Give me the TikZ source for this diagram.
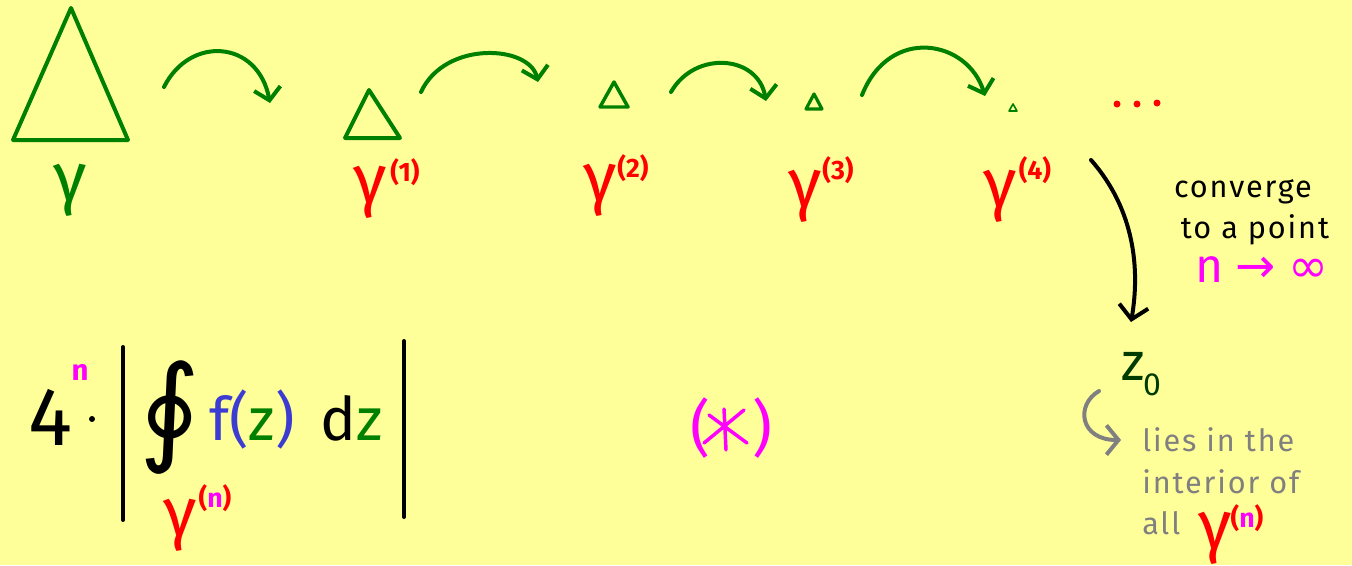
\documentclass[tikz,border=0pt]{standalone}
\usepackage{fontspec}
\setmainfont{Fira Sans}
\newfontfamily\sym{DejaVu Sans}
\newfontfamily\wide[LetterSpace=6]{Fira Sans}
\usetikzlibrary{arrows.meta}
\definecolor{bg}{RGB}{255,255,153}
\definecolor{mygreen}{RGB}{0,128,0}
\definecolor{dkgreen}{RGB}{0,60,0}
\definecolor{myred}{RGB}{255,0,0}
\definecolor{mymag}{RGB}{255,0,255}
\definecolor{myblue}{RGB}{60,60,210}
\definecolor{mygrey}{RGB}{128,128,128}
\tikzset{
  tri/.style={draw=mygreen, line width=3pt, line join=round},
  hop/.style={draw=mygreen, line width=3pt, line cap=round, -{Straight Barb[length=9pt,width=20pt,line width=3pt]}},
  gam/.style={font=\fontsize{52}{52}\selectfont, inner sep=0pt},
  sup/.style={font=\fontsize{20}{20}\selectfont\bfseries, text=myred, inner sep=0pt},
  note/.style={font=\wide\fontsize{23}{23}\selectfont, inner sep=0pt, anchor=base west},
  big/.style={font=\fontsize{36}{36}\selectfont, inner sep=0pt},
  formula/.style={font=\fontsize{45}{45}\selectfont, inner sep=0pt, anchor=base},
}
\begin{document}
\begin{tikzpicture}[x=0.75pt,y=-0.75pt]
\fill[bg] (0,0) rectangle (1352,565);
\useasboundingbox (0,0) rectangle (1352,565);

% triangles
\draw[tri] (71,8) -- (128,140) -- (13,140) -- cycle;
\draw[tri] (369,90) -- (400,138) -- (345,138) -- cycle;
\draw[tri, line width=2.6pt] (614,82) -- (628,107) -- (600,107) -- cycle;
\draw[tri, line width=2.4pt] (814,94) -- (822,109) -- (806,109) -- cycle;
\draw[tri, line width=1.2pt] (1013,104) -- (1017,111) -- (1009,111) -- cycle;

% gamma labels
\node[gam, text=mygreen] (g0) at (70,190) {γ};
\node[gam, text=myred] (g1) at (370,192) {γ};
\node[sup] (s1) at (405,172) {(1)};
\node[gam, text=myred] (g2) at (600,190) {γ};
\node[sup] (s2) at (633,168) {(2)};
\node[gam, text=myred] (g3) at (805,196) {γ};
\node[sup] (s3) at (838,170) {(3)};
\node[gam, text=myred] (g4) at (1000,196) {γ};
\node[sup] (s4) at (1035,170) {(4)};

% dots
\fill[myred] (1117,104) circle (3.5) (1137,104) circle (3.5) (1157,103) circle (3.5);

% hop arrows
\coordinate (a1s) at (164,87); \coordinate (a1e) at (270,103);
\coordinate (a2s) at (421,92); \coordinate (a2e) at (538,82);
\coordinate (a3s) at (671,92); \coordinate (a3e) at (766,101);
\coordinate (a4s) at (862,95); \coordinate (a4e) at (985,96);
\draw[hop] (a1s) .. controls (190,35) and (258,40) .. (a1e);
\draw[hop] (a2s) .. controls (445,40) and (530,45) .. (a2e);
\draw[hop] (a3s) .. controls (695,50) and (758,55) .. (a3e);
\draw[hop] (a4s) .. controls (890,25) and (968,40) .. (a4e);

% converge arrow
\coordinate (cs) at (1091,160); \coordinate (ce) at (1131,322);
\draw[line width=3pt, line cap=round, -{Straight Barb[length=10pt,width=22pt,line width=3pt]}]
  (cs) .. controls (1135,210) and (1140,270) .. (ce);
\node[note, anchor=base] (conv) at (1243,197) {converge};
\node[note, anchor=base] (tap) at (1255,238) {to a point};
\node[big, text=mymag, anchor=base] (ninf) at (1262,282) {n {\sym →} {\sym ∞}};

% z0
\node[big, font=\fontsize{40}{40}\selectfont, text=dkgreen] (z0) at (1133,366) {z};
\node[font=\fontsize{24}{24}\selectfont, text=dkgreen, inner sep=0pt] (z0s) at (1152,385) {0};
\coordinate (gs) at (1099,391); \coordinate (ge) at (1121,440);
\draw[mygrey, line width=3pt, line cap=round, -{Straight Barb[length=9pt,width=22pt,line width=3pt]}]
  (gs) .. controls (1075,405) and (1080,440) .. (ge);
\node[note, text=mygrey] (l1) at (1142,451) {lies in the};
\node[note, text=mygrey] (l2) at (1142,493) {interior of};
\node[note, text=mygrey] (l3) at (1142,534) {all};
\node[gam, text=myred] (gn) at (1215,538) {γ};
\node[sup] (sn) at (1247,518) {(\textcolor{mymag}{n})};

% formula
\node[font=\fontsize{62}{62}\selectfont, inner sep=0pt, anchor=base] (four) at (50,445) {4};
\node[font=\fontsize{22}{22}\selectfont\bfseries, text=mymag, inner sep=0pt] (n4) at (80,372) {n};
\fill (92,419) circle (3);
\draw[line width=3pt, line cap=round] (123,347) -- (123,520);
\draw[line width=3pt, line cap=round] (404,341) -- (404,517);
\node[font=\fontsize{88}{88}\selectfont\sym, inner sep=0pt] (oint) at (170,418) {∮};
\node[formula] (fz) at (252,440) {\textcolor{myblue}{f(}\textcolor{mygreen}{z}\textcolor{myblue}{)}};
\node[formula] (dz) at (352,440) {d\textcolor{mygreen}{z}};
\node[gam, text=myred] (gi) at (180,525) {γ};
\node[sup] (si) at (215,498) {(\textcolor{mymag}{n})};

% (*)
\node[font=\fontsize{46}{46}\selectfont, text=mymag, inner sep=0pt] (lp) at (700,428) {(};
\node[font=\fontsize{46}{46}\selectfont, text=mymag, inner sep=0pt] (rp) at (762,428) {)};
\draw[mymag, line width=2.6pt, line cap=round]
  (724,409) -- (726,450) (709,415) -- (747,443) (704,443) -- (744,410);
\end{tikzpicture}
\end{document}
